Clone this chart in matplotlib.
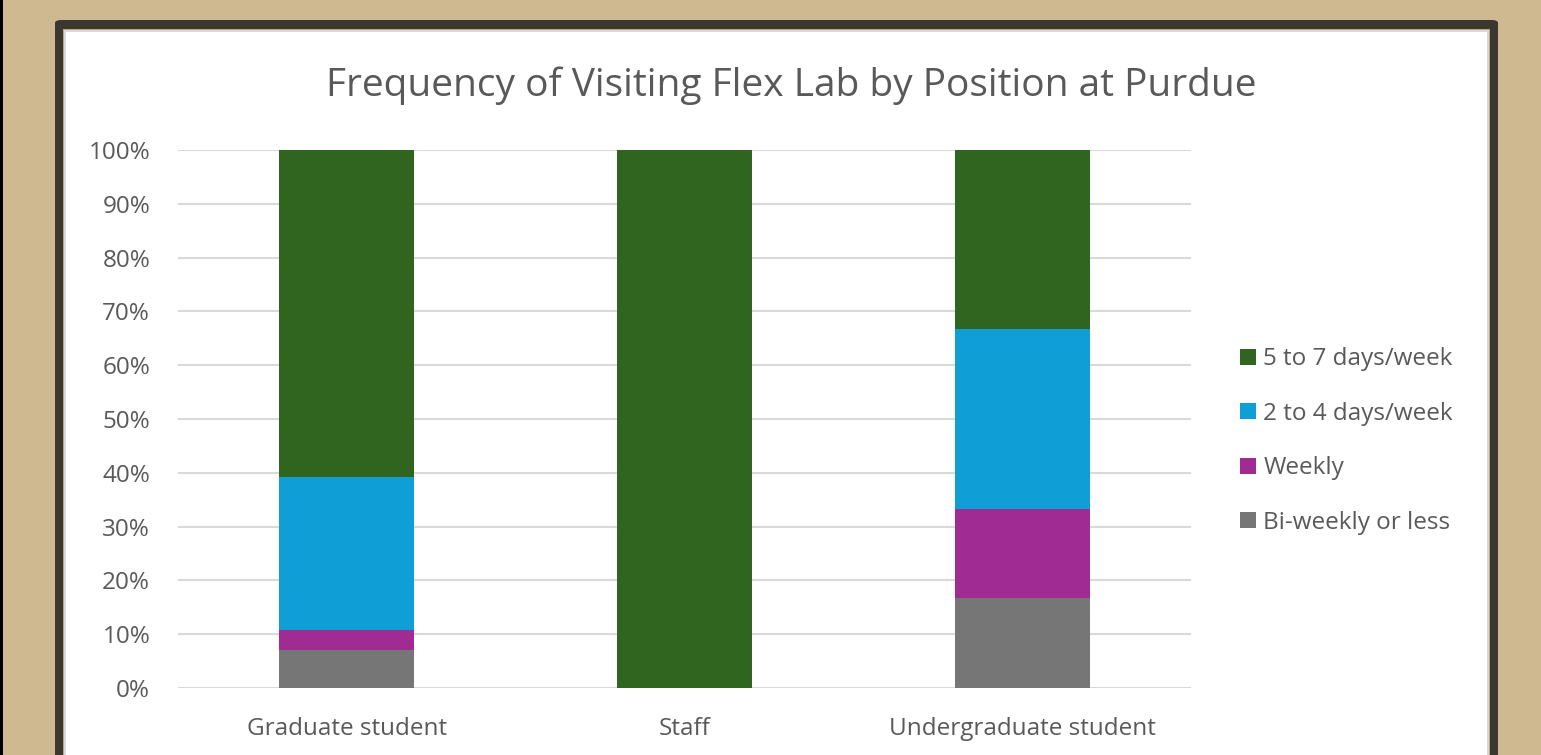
import numpy as np
import matplotlib
matplotlib.use('Agg')
from matplotlib import pyplot as plt
from matplotlib.patches import Rectangle, FancyBboxPatch
from matplotlib.ticker import PercentFormatter

plt.rcParams['font.family'] = ['Open Sans', 'DejaVu Sans']

positions = ['Graduate student', 'Staff', 'Undergraduate student']
series = ['Bi-weekly or less', 'Weekly', '2 to 4 days/week', '5 to 7 days/week']
biweekly = [0.0714, 0.0, 0.1667]
weekly = [0.0357, 0.0, 0.1667]
days_2_4 = [0.2857, 0.0, 0.3333]
days_5_7 = [0.6071, 1.0, 0.3333]
colors = ['#767676', '#A02B93', '#0F9ED5', '#30651F']

text_col = '#595959'
W, H = 1541, 755

fig = plt.figure(figsize=(W / 100, H / 100), dpi=100)
fig.patch.set_facecolor('#CFB991')

def px_rect(x0, y0, x1, y1, color, **kw):
    # rectangle given in pixel coords (origin top-left)
    fig.patches.append(Rectangle((x0 / W, 1 - y1 / H), (x1 - x0) / W, (y1 - y0) / H,
                                 transform=fig.transFigure, facecolor=color,
                                 edgecolor='none', **kw))

px_rect(0, 0, 3, H, '#000000')
fig.patches.append(FancyBboxPatch((55 / W, -0.05), (1498 - 55) / W, 1.05 - 20 / H,
                                  boxstyle='round,pad=0,rounding_size=0.004',
                                  transform=fig.transFigure, facecolor='#3B3731',
                                  edgecolor='none'))
px_rect(63, 29, 1490, H + 5, '#BFA77A')
px_rect(64, 30, 1489, H + 5, '#D9D9D9')
px_rect(66, 32, 1487, H + 5, '#FFFFFF')

ax = fig.add_axes([178 / W, 1 - 688 / H, (1191 - 178) / W, (688 - 150) / H])
ax.set_facecolor('none')
ax.set_zorder(5)

x = np.arange(len(positions))
data = [biweekly, weekly, days_2_4, days_5_7]
bottom = np.zeros(len(positions))
bars = []
for vals, lab, col in zip(data, series, colors):
    b = ax.bar(x, vals, width=0.40, bottom=bottom, color=col, label=lab, zorder=3)
    bars.append(b)
    bottom += np.array(vals)

ax.set_xlim(-0.5, 2.5)
ax.set_ylim(0, 1)
ax.set_yticks(np.arange(0, 1.01, 0.1))
ax.yaxis.set_major_formatter(PercentFormatter(1.0, decimals=0))
ax.set_xticks(x)
ax.set_xticklabels(positions)
ax.tick_params(axis='both', length=0, labelsize=17.5, colors=text_col)
ax.tick_params(axis='y', pad=20)
ax.tick_params(axis='x', pad=21)
ax.grid(axis='y', color='#D9D9D9', linewidth=1.5, zorder=0)
for s in ax.spines.values():
    s.set_visible(False)

fig.text(791 / W, 1 - 86 / H, 'Frequency of Visiting Flex Lab by Position at Purdue',
         ha='center', va='center', fontsize=28, color=text_col)

handles = bars[::-1]
labels = series[::-1]
leg = fig.legend(handles, labels, loc='center left', bbox_to_anchor=(1228 / W, 1 - 441 / H),
                 frameon=False, fontsize=17.5, handlelength=0.65, handleheight=0.65,
                 handletextpad=0.3, labelspacing=1.25, borderpad=0)
leg.set_zorder(6)
for t in leg.get_texts():
    t.set_color(text_col)

fig.savefig('out.png', dpi=100, facecolor=fig.get_facecolor())
